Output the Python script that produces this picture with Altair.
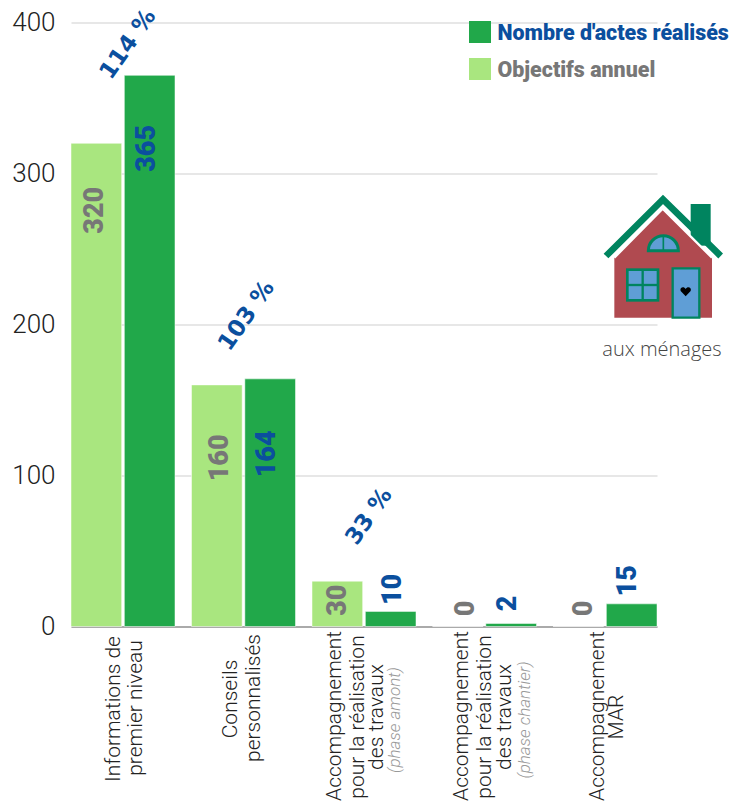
import math
import urllib.parse
import altair as alt
import pandas as pd

CATEGORIES = ["Informations de premier niveau", "Conseils personnalisés",
              "Accompagnement travaux (phase amont)", "Accompagnement travaux (phase chantier)",
              "Accompagnement MAR"]
OBJECTIFS = [320, 160, 30, 0, 0]
REALISES = [365, 164, 10, 2, 15]
PERCENTS = ["114 %", "103 %", "33 %"]
LINES = [
    ["Informations de", "premier niveau"],
    ["Conseils", "personnalisés"],
    ["Accompagnement", "pour la réalisation", "des travaux", "(phase amont)"],
    ["Accompagnement", "pour la réalisation", "des travaux", "(phase chantier)"],
    ["Accompagnement", "MAR"],
]
SERIES = ["Objectifs annuel", "Nombre d'actes réalisés"]

DARK, LIGHT, BLUE, GREY = "#21a84a", "#a9e67f", "#0b4f9e", "#777777"
FONT = "Roboto"

# label placement (screen pixels, relative to the mark they annotate)
OBJ_OFF = [(-1, 67), (3, 73), (1, 19), (8, -18), (6, -18)]
REA_OFF = [(-3, 73), (-3, 75), (2, -22), (-3, -20), (-4, -23)]
PCT_OFF = [(5, -31), (3, -63), (5, -95)]
LINE_DX = [[-9, 13], [-12, 11], [-29, -6, 13, 31], [-23, 0, 20, 40], [-7, 12]]
LINE_Y = [[709, 708], [699, 698], [716, 717, 717, 720], [716, 717, 717, 720], [716, 717]]


def local(sx, sy, angle):
    """Vega applies dx/dy in the rotated frame of the text."""
    t = math.radians(angle)
    return sx * math.cos(t) + sy * math.sin(t), -sx * math.sin(t) + sy * math.cos(t)


rows = []
for c, o, r in zip(CATEGORIES, OBJECTIFS, REALISES):
    rows.append({"cat": c, "serie": SERIES[0], "value": o})
    rows.append({"cat": c, "serie": SERIES[1], "value": r})
df = pd.DataFrame(rows)

x = alt.X("cat:N", sort=CATEGORIES, title=None,
          scale=alt.Scale(paddingInner=0.137, paddingOuter=0),
          axis=alt.Axis(labels=False, ticks=False, domainColor="#aaaaaa", domainWidth=2, grid=False))
xo = alt.XOffset("serie:N", sort=SERIES, scale=alt.Scale(paddingInner=0.05))
y = alt.Y("value:Q", title=None, scale=alt.Scale(domain=[0, 400], nice=False),
          axis=alt.Axis(values=[0, 100, 200, 300, 400], format="d", ticks=False, domain=False,
                        gridColor="#cfcfcf", gridWidth=1.2, labelFont=FONT, labelFontWeight=300,
                        labelFontSize=26, labelColor="#222222", labelPadding=16))

bars = alt.Chart(df).mark_bar(stroke="white", strokeWidth=0.5).encode(
    x=x, xOffset=xo, y=y,
    color=alt.Color("serie:N", legend=None,
                    scale=alt.Scale(domain=SERIES, range=[LIGHT, DARK])))
layers = [bars]

# value labels
for i, c in enumerate(CATEGORIES):
    for s, val, off, col in ((SERIES[0], OBJECTIFS[i], OBJ_OFF[i], GREY),
                             (SERIES[1], REALISES[i], REA_OFF[i], BLUE)):
        d = pd.DataFrame([{"cat": c, "serie": s, "value": val}])
        ox, oy = local(off[0], off[1], 270)
        layers.append(alt.Chart(d).mark_text(
            angle=270, font=FONT, fontWeight=900, fontSize=27, color=col,
            align="center", baseline="middle", dx=ox, dy=oy
        ).encode(x=alt.X("cat:N", sort=CATEGORIES), xOffset=xo, y="value:Q", text="value:Q"))

# percentages
for i, p in enumerate(PERCENTS):
    d = pd.DataFrame([{"cat": CATEGORIES[i], "value": REALISES[i], "p": p}])
    ox, oy = local(PCT_OFF[i][0], PCT_OFF[i][1], 305)
    layers.append(alt.Chart(d).mark_text(
        angle=305, font="DejaVu Sans", fontWeight="bold", fontSize=23, color=BLUE,
        align="center", baseline="middle", dx=ox, dy=oy
    ).encode(x=alt.X("cat:N", sort=CATEGORIES), y="value:Q", text="p:N"))

# category labels, line by line
for i, c in enumerate(CATEGORIES):
    for j, line in enumerate(LINES[i]):
        phase = line.startswith("(")
        d = pd.DataFrame([{"cat": c, "t": line}])
        ox, oy = local(LINE_DX[i][j], 0, 270)
        layers.append(alt.Chart(d).mark_text(
            angle=270, font=FONT, fontWeight=300, fontSize=17 if phase else 21,
            fontStyle="italic" if phase else "normal", color="#999999" if phase else "#222222",
            align="center", baseline="middle", dx=ox, dy=oy
        ).encode(x=alt.X("cat:N", sort=CATEGORIES), y=alt.value(LINE_Y[i][j] - 22.5), text="t:N"))

# legend
for label, col, tcol, py in ((SERIES[1], DARK, BLUE, 32), (SERIES[0], LIGHT, GREY, 69)):
    d = pd.DataFrame([{"t": label}])
    layers.append(alt.Chart(d).mark_square(size=484, color=col, opacity=1).encode(
        x=alt.value(480 - 71), y=alt.value(py - 22.5)))
    layers.append(alt.Chart(d).mark_text(
        font=FONT, fontWeight=900, fontSize=21.4, color=tcol, align="left", baseline="middle"
    ).encode(x=alt.value(497.5 - 71), y=alt.value(py + 2 - 22.5), text="t:N"))

# house
G, B = "#00845f", "#5f9ed6"
svg = f"""<svg xmlns='http://www.w3.org/2000/svg' viewBox='0 0 441 570' width='147' height='190'>
<rect x='302' y='72' width='60' height='125' fill='{G}'/>
<polygon points='73,413 73,233 218,88 366,233 366,413' fill='#b04a50'/>
<polyline points='73,233 218,86 366,233' fill='none' stroke='white' stroke-width='7'/>
<polyline points='48,228 219,58 392,228' fill='none' stroke='{G}' stroke-width='20'/>
<path d='M175,212 A45,45 0 0 1 265,212 Z' fill='{B}' stroke='{G}' stroke-width='9'/>
<line x1='220' y1='167' x2='220' y2='212' stroke='{G}' stroke-width='5'/>
<rect x='112' y='269' width='92' height='92' fill='{B}' stroke='{G}' stroke-width='8'/>
<line x1='158' y1='269' x2='158' y2='361' stroke='{G}' stroke-width='7'/>
<line x1='112' y1='315' x2='204' y2='315' stroke='{G}' stroke-width='7'/>
<path d='M248,413 V265 H328 V413 Z' fill='{B}' stroke='{G}' stroke-width='7'/>
<path d='M287,349 L272,333 C268,322 282,318 287,327 C292,318 306,322 302,333 Z' fill='black'/>
</svg>"""
uri = "data:image/svg+xml," + urllib.parse.quote(svg)
layers.append(alt.Chart(pd.DataFrame([{"u": uri}])).mark_image(
    width=147, height=190, align="left", baseline="top"
).encode(x=alt.value(590 - 71), y=alt.value(180 - 22.5), url="u:N"))
layers.append(alt.Chart(pd.DataFrame([{"t": "aux ménages"}])).mark_text(
    font="Open Sans", fontWeight=300, fontSize=20, color="#444444", align="center", baseline="middle"
).encode(x=alt.value(662 - 71), y=alt.value(350 - 22.5), text="t:N"))

chart = alt.layer(*layers).resolve_scale(color="independent").properties(
    width=586, height=604,
    padding={"left": 63, "top": 14.5, "right": 72, "bottom": 176},
    autosize=alt.AutoSizeParams(type="none"),
).configure_view(stroke=None)

chart.save("out.html", embed_options={"renderer": "svg", "actions": False})
